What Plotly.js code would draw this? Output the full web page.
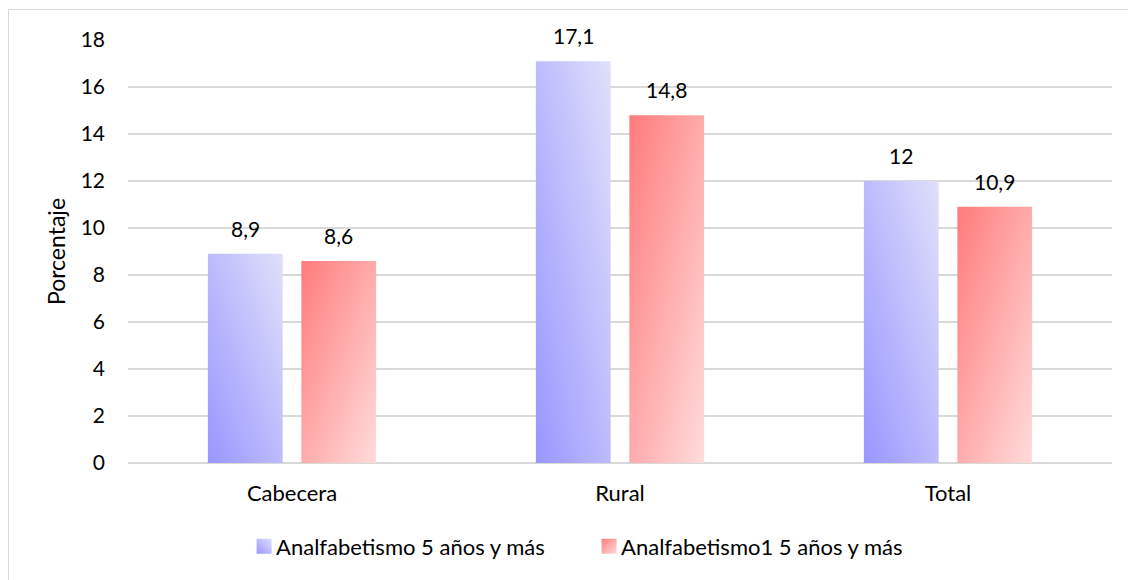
<!DOCTYPE html>
<html>
<head>
<meta charset="utf-8">
<script src="https://cdn.plot.ly/plotly-3.0.1.min.js"></script>
<style>
  html, body { margin: 0; padding: 0; background: #ffffff; }
  #wrap { position: relative; width: 1128px; height: 580px; overflow: hidden; }
  #frame { position: absolute; left: 8px; top: 9px; width: 1130px; height: 580px; border: 1px solid #d9d9d9; box-sizing: border-box; pointer-events: none; }
  #chart { position: absolute; left: 0; top: 0; width: 1128px; height: 580px; }
</style>
</head>
<body>
<div id="wrap">
  <div id="chart"></div>
  <div id="frame"></div>
</div>
<script>
const categories = ["Cabecera", "Rural", "Total"];
const seriesNames = ["Analfabetismo 5 años y más", "Analfabetismo1 5 años y más"];
const serie1 = [8.9, 17.1, 12];
const serie2 = [8.6, 14.8, 10.9];
const yTicks = [0, 2, 4, 6, 8, 10, 12, 14, 16, 18];
const yTitle = "Porcentaje";

const FONT = "Lato, 'Open Sans', sans-serif";
const FS = 21;

const traces = [
  { type: "bar", name: seriesNames[0], x: categories, y: serie1,
    marker: { color: "#bcbaff", line: { width: 0 } }, hoverinfo: "none" },
  { type: "bar", name: seriesNames[1], x: categories, y: serie2,
    marker: { color: "#ffaaaa", line: { width: 0 } }, hoverinfo: "none" }
];

const SLOT = 46.75;
const annotations = [];
[serie1, serie2].forEach((s, i) => {
  s.forEach((v, j) => {
    annotations.push({
      xref: "x", yref: "y", x: categories[j], y: v,
      text: String(v).replace(".", ","),
      showarrow: false, xanchor: "center", yanchor: "bottom",
      xshift: i === 0 ? -SLOT : SLOT, yshift: 11,
      font: { family: FONT, size: FS, color: "#000000" }
    });
  });
});

const layout = {
  width: 1128, height: 580,
  paper_bgcolor: "rgba(0,0,0,0)", plot_bgcolor: "rgba(0,0,0,0)",
  margin: { l: 128, r: 16, t: 40, b: 117, autoexpand: false },
  font: { family: FONT, size: FS, color: "#000000" },
  separators: ",.",
  barmode: "group", bargap: 0.43, bargroupgap: 0.2,
  showlegend: true,
  legend: { orientation: "h", x: 0.118, xanchor: "left", y: -0.197, yanchor: "middle",
            entrywidth: 300, entrywidthmode: "pixels",
            font: { family: FONT, size: 22, color: "#000000" }, itemclick: false, itemdoubleclick: false },
  xaxis: { type: "category", showgrid: false, zeroline: false, showline: false, ticks: "",
           ticklabelstandoff: 15, tickfont: { family: FONT, size: 22 } },
  yaxis: { range: [0, 18], tickvals: yTicks, showgrid: true, gridcolor: "#d9d9d9", gridwidth: 1.3,
           zeroline: true, zerolinecolor: "#d9d9d9", zerolinewidth: 1.3, showline: false, ticks: "",
           ticklabelstandoff: 22, tickfont: { family: FONT, size: FS },
           title: { text: yTitle, font: { family: FONT, size: 23 }, standoff: 8 } },
  annotations: annotations
};

function addGradients(gd) {
  const svg = gd.querySelector("svg.main-svg");
  const ns = "http://www.w3.org/2000/svg";
  let defs = svg.querySelector("defs");
  if (!defs) { defs = document.createElementNS(ns, "defs"); svg.insertBefore(defs, svg.firstChild); }
  const grads = [
    { id: "gblue", x1: 0, y1: 1, x2: 1, y2: 0, c1: "#9996ff", c2: "#e0e0fb" },
    { id: "gred", x1: 0, y1: 0, x2: 1, y2: 1, c1: "#ff7b7b", c2: "#ffdcdc" }
  ];
  grads.forEach(g => {
    const lg = document.createElementNS(ns, "linearGradient");
    lg.setAttribute("id", g.id);
    lg.setAttribute("x1", g.x1); lg.setAttribute("y1", g.y1);
    lg.setAttribute("x2", g.x2); lg.setAttribute("y2", g.y2);
    const s1 = document.createElementNS(ns, "stop");
    s1.setAttribute("offset", "0"); s1.setAttribute("stop-color", g.c1);
    const s2 = document.createElementNS(ns, "stop");
    s2.setAttribute("offset", "1"); s2.setAttribute("stop-color", g.c2);
    lg.appendChild(s1); lg.appendChild(s2);
    defs.appendChild(lg);
  });
  const ids = ["gblue", "gred"];
  gd.querySelectorAll(".barlayer .trace.bars").forEach((t, i) => {
    t.querySelectorAll("path").forEach(p => { p.style.fill = "url(#" + ids[i] + ")"; });
  });
  gd.querySelectorAll(".legend .traces").forEach((t, i) => {
    t.querySelectorAll(".legendpoints path").forEach(p => {
      p.style.fill = "url(#" + ids[i] + ")";
      p.setAttribute("d", "M7.5,7.5H-7.5V-7.5H7.5Z");
    });
    const txt = t.querySelector("text.legendtext");
    if (txt) txt.setAttribute("x", "32");
  });
}

Plotly.newPlot("chart", traces, layout, { staticPlot: true, displayModeBar: false })
  .then(addGradients);
</script>
</body>
</html>
